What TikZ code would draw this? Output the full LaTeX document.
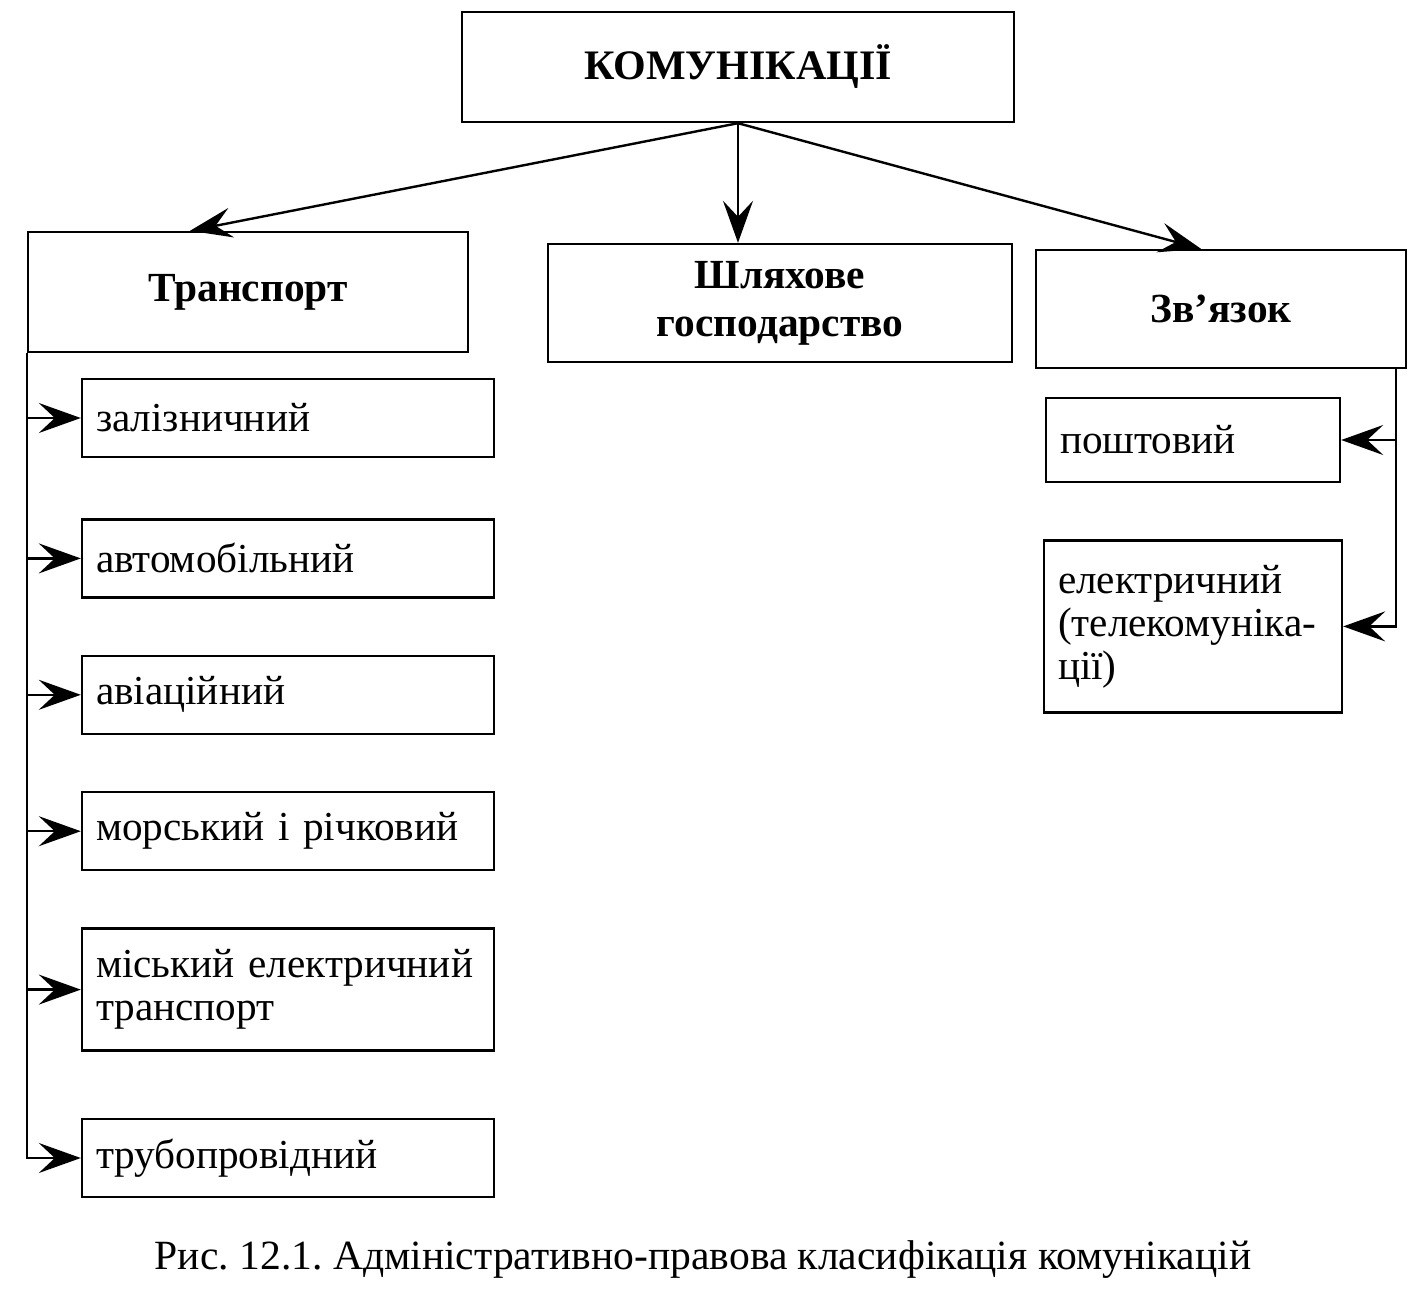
\documentclass[tikz,border=0pt]{standalone}
\usepackage{fontspec}
\setmainfont{Liberation Serif}
\usetikzlibrary{arrows.meta,positioning}
\frenchspacing

\begin{document}
\begin{tikzpicture}[x=0.5pt,y=-0.5pt,>={Stealth[length=21pt,width=15pt,inset=8pt]},
        line width=1.2pt, node distance=28pt,
        head/.style={draw,rectangle,align=center,font=\fontsize{20.7}{24}\selectfont\bfseries},
        sub/.style={draw,rectangle,text width=192pt,inner xsep=7pt,minimum height=39pt,
                    align=left,font=\fontsize{20.6}{21.5}\selectfont}]

  \useasboundingbox (0,0) rectangle (1409,1301);

  % top level
  \node[head,minimum width=276pt,minimum height=55pt,font=\fontsize{21}{25}\selectfont\bfseries]
        (com) at (738,67) {КОМУНІКАЦІЇ};
  \node[head,minimum width=220pt,minimum height=60pt] (transport) at (248,292) {Транспорт};
  \node[head,minimum width=232pt,minimum height=59pt] (road) at (780,303) {Шляхове\\господарство};
  \node[head,minimum width=185pt,minimum height=59pt] (zv) at (1221,309) {Зв’язок};

  % transport kinds
  \node[sub] (rail) at (288,418) {залізничний};
  \node[sub] (auto) [below=30pt of rail] {автомобільний};
  \node[sub] (avia) [below=of auto] {авіаційний};
  \node[sub] (sea) [below=of avia] {морський і річковий};
  \node[sub,minimum height=61pt] (urban) [below=of sea] {міський електричний\\транспорт};
  \node[sub] (pipe) [below=33pt of urban] {трубопровідний};

  % communication kinds
  \node[sub,text width=133pt,minimum height=42pt] (post) at (1193,440) {поштовий};
  \node[sub,text width=135pt,minimum height=86pt] (el) [below=of post]
        {електричний\\(телекомуніка-\\ції)};

  \node[font=\fontsize{20.8}{24}\selectfont] (caption) at (703,1260)
        {Рис. 12.1. Адміністративно-правова класифікація комунікацій};

  \draw[->] (com.south) -- ([xshift=-29pt]transport.north);
  \draw[->] (com.south) -- (com.south |- road.north);
  \draw[->] (com.south) -- ([xshift=-10pt]zv.north);

  \draw[->] (transport.south west) |- (pipe.west);
  \foreach \n in {rail,auto,avia,sea,urban}
    \draw[->] (transport.south west |- \n.west) -- (\n.west);

  \coordinate (zvfoot) at ([xshift=-5.5pt]zv.south east);
  \draw[->] (zvfoot) |- (el.east);
  \draw[->] (zvfoot |- post.east) -- (post.east);

\end{tikzpicture}
\end{document}
